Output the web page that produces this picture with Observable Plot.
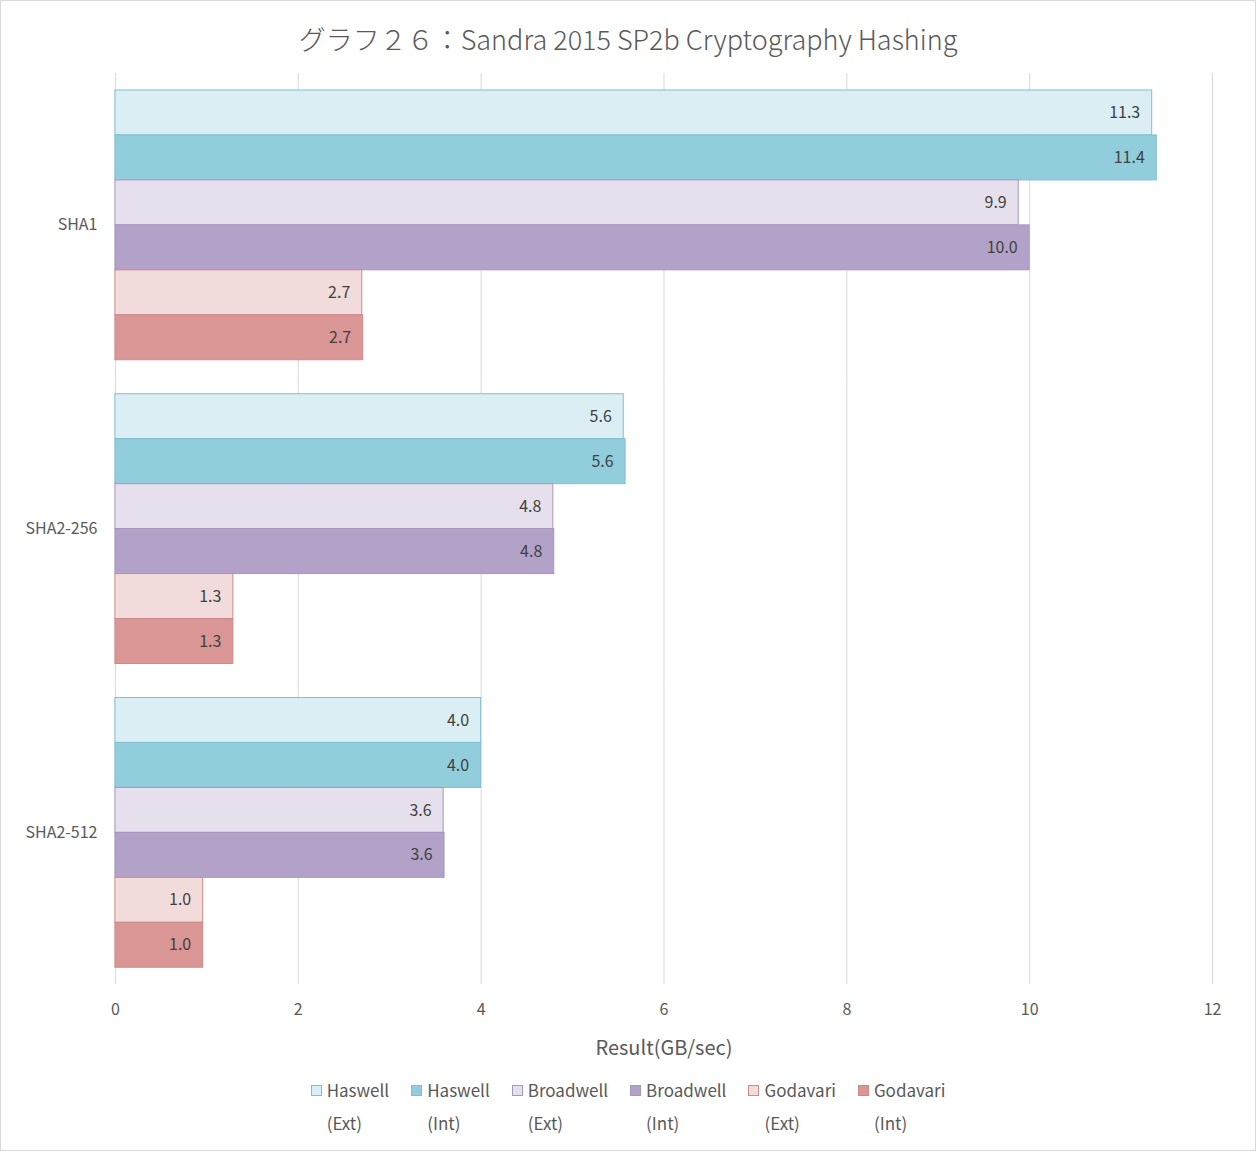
<!DOCTYPE html>
<html>
<head>
<meta charset="utf-8">
<script src="https://cdn.jsdelivr.net/npm/d3@7"></script>
<script src="https://cdn.jsdelivr.net/npm/@observablehq/plot@0.6"></script>
<style>
  html, body { margin: 0; padding: 0; background: #fff; }
  #chart { position: relative; width: 1256px; height: 1151px; box-sizing: border-box; border: 1px solid #d9d9d9; overflow: hidden; font-family: "Noto Sans CJK JP", "Noto Sans", sans-serif; color: #595959; }
  #title { position: absolute; left: 0; width: 1254px; top: 18px; text-align: center; font-size: 27px; line-height: 40px; color: #595959; font-weight: 300; }
  #plot { position: absolute; left: -1px; top: 58px; }
  #legend { position: absolute; left: 0; width: 1254px; top: 1072px; display: flex; justify-content: center; gap: 22px; font-size: 17px; line-height: 33px; color: #595959; }
  .item { display: flex; align-items: flex-start; }
  .sw { width: 11px; height: 11px; box-sizing: border-box; border: 1px solid; margin-top: 12px; margin-right: 5px; }
</style>
</head>
<body>
<div id="chart">
  <div id="title">グラフ２６：Sandra 2015 SP2b Cryptography Hashing</div>
  <div id="plot"></div>
  <div id="legend"></div>
</div>
<script>
const categories = ["SHA1", "SHA2-256", "SHA2-512"];
const seriesNames = ["Haswell (Ext)", "Haswell (Int)", "Broadwell (Ext)", "Broadwell (Int)", "Godavari (Ext)", "Godavari (Int)"];
const haswellExt   = [11.34, 5.56, 4.00];
const haswellInt   = [11.39, 5.58, 4.00];
const broadwellExt = [9.88, 4.79, 3.59];
const broadwellInt = [10.00, 4.80, 3.60];
const godavariExt  = [2.70, 1.29, 0.96];
const godavariInt  = [2.71, 1.29, 0.96];
const xTicks = [0, 2, 4, 6, 8, 10, 12];
const axisTitle = "Result(GB/sec)";

const fills   = ["#DAEEF3", "#92CDDC", "#E6E0EC", "#B3A2C7", "#F2DCDB", "#D99694"];
const strokes = ["#7FBFD0", "#7FBFD0", "#A797BD", "#A797BD", "#CF8A88", "#CF8A88"];

const seriesValues = [haswellExt, haswellInt, broadwellExt, broadwellInt, godavariExt, godavariInt];
const rows = [];
seriesNames.forEach((s, i) => categories.forEach((c, j) => rows.push({category: c, series: s, value: seriesValues[i][j]})));

const chart = Plot.plot({
  width: 1256,
  height: 1010,
  marginLeft: 115,
  marginRight: 43,
  marginTop: 13,
  marginBottom: 83,
  style: {fontFamily: '"Noto Sans CJK JP", "Noto Sans", sans-serif', fontSize: "15px", color: "#595959", background: "transparent"},
  x: {domain: [0, 12], ticks: xTicks, tickSize: 0, tickPadding: 19, label: axisTitle, labelAnchor: "center", labelArrow: "none", labelOffset: 70},
  y: {domain: seriesNames, axis: null, paddingInner: 0, paddingOuter: 0.32},
  fy: {domain: categories, padding: 0, label: null, tickSize: 0, tickPadding: 18},
  marks: [
    Plot.ruleX(xTicks, {stroke: "#d9d9d9", strokeWidth: 1}),
    ...seriesNames.map((s, i) => Plot.barX(rows.filter(r => r.series === s), {
      fy: "category", y: "series", x: "value", fill: fills[i], stroke: strokes[i], strokeWidth: 1
    })),
    Plot.text(rows, {fy: "category", y: "series", x: "value", text: d => d.value.toFixed(1), textAnchor: "end", dx: -12, fontSize: 16, fill: "#404040"})
  ]
});
chart.querySelectorAll('[aria-label="x-axis label"] text, [aria-label="x-axis label"]').forEach(t => t.setAttribute("font-size", "20"));
chart.querySelectorAll('[aria-label="x-axis tick label"], [aria-label="fy-axis tick label"]').forEach(t => t.setAttribute("font-size", "16"));
document.getElementById("plot").appendChild(chart);

const legend = document.getElementById("legend");
seriesNames.forEach((s, i) => {
  const item = document.createElement("div");
  item.className = "item";
  const sw = document.createElement("div");
  sw.className = "sw";
  sw.style.background = fills[i];
  sw.style.borderColor = strokes[i];
  const lab = document.createElement("div");
  const parts = s.split(" ");
  lab.innerHTML = parts[0] + "<br>" + parts.slice(1).join(" ");
  item.appendChild(sw);
  item.appendChild(lab);
  legend.appendChild(item);
});
</script>
</body>
</html>
